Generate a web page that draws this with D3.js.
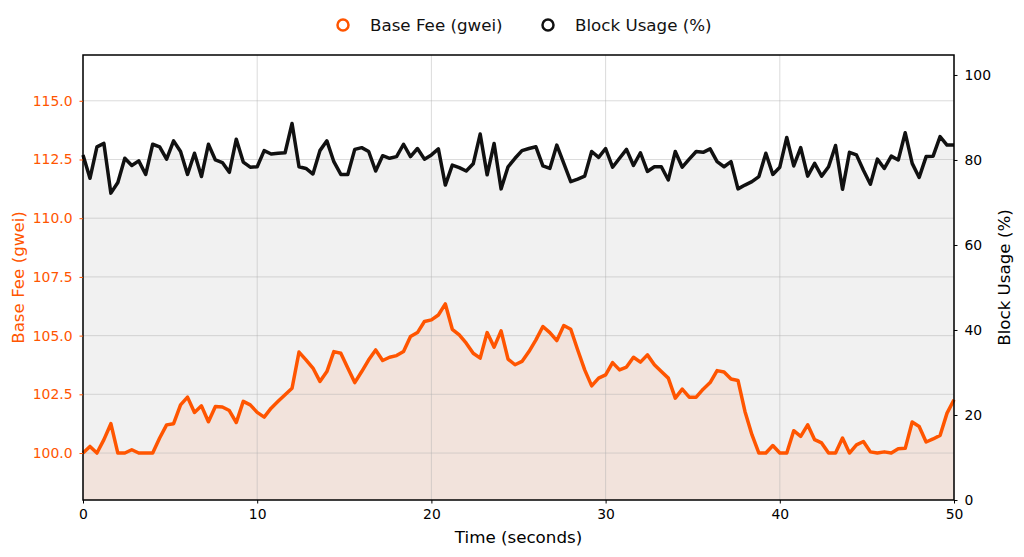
<!DOCTYPE html>
<html><head><meta charset="utf-8">
<script src="https://cdn.jsdelivr.net/npm/d3@7"></script>
<style>
html,body{margin:0;padding:0;background:#fff;}
svg{display:block;font-family:"DejaVu Sans",sans-serif;}
</style></head>
<body>
<svg id="chart" width="1024" height="557"></svg>
<script>
// time step 0.4 s, 126 samples from 0 to 50
const timeStep = 0.4;
const baseFee = [
100.0,100.28,100.0,100.57,101.25,100.0,100.0,100.14,100.0,100.0,
100.0,100.64,101.2,101.25,102.05,102.38,101.73,102.01,101.33,101.98,
101.96,101.81,101.3,102.2,102.05,101.73,101.53,101.91,102.2,102.48,
102.76,104.3,103.97,103.62,103.05,103.47,104.32,104.25,103.62,103.0,
103.47,103.97,104.39,103.94,104.08,104.15,104.32,104.96,105.13,105.6,
105.67,105.88,106.35,105.27,105.03,104.68,104.25,104.04,105.13,104.51,
105.2,104.0,103.76,103.9,104.32,104.82,105.39,105.13,104.79,105.43,
105.27,104.39,103.54,102.86,103.19,103.33,103.85,103.54,103.66,104.08,
103.87,104.18,103.76,103.47,103.19,102.34,102.72,102.38,102.38,102.72,
103.0,103.51,103.45,103.15,103.09,101.77,100.78,100.0,100.0,100.32,
100.0,100.0,100.95,100.71,101.2,100.57,100.43,100.0,100.0,100.64,
100.0,100.35,100.49,100.05,100.0,100.05,100.0,100.18,100.2,101.32,
101.13,100.47,100.6,100.75,101.7,102.27
];
const blockUsage = [
81.2,75.7,83.1,83.9,72.2,74.7,80.4,78.7,79.8,76.6,
83.7,83.1,80.2,84.5,82.0,76.6,81.6,76.1,83.7,80.0,
79.4,77.1,84.9,79.5,78.3,78.4,82.2,81.4,81.6,81.7,
88.6,78.4,78.0,76.7,82.2,84.5,79.6,76.6,76.6,82.5,
82.9,82.0,77.4,81.0,80.4,80.8,83.7,80.8,82.7,80.2,
81.2,82.6,74.1,78.8,78.2,77.4,79.1,86.1,76.5,83.9,
73.2,78.4,80.4,82.2,82.7,83.1,78.6,78.0,83.5,79.2,
74.9,75.5,76.2,82.0,80.6,82.7,78.3,80.4,82.5,78.7,
81.7,77.3,78.4,78.4,75.3,82.0,78.3,80.2,82.0,81.8,
82.6,79.6,78.4,79.6,73.2,74.1,74.9,76.1,81.6,76.6,
78.3,85.3,78.6,82.9,76.2,79.2,76.2,78.4,83.4,73.1,
81.8,81.2,77.6,74.3,80.2,78.0,80.9,80.0,86.4,79.2,
75.9,80.8,80.9,85.5,83.5,83.5
];
const xTicks = [0,10,20,30,40,50];
const feeTicks = [100,102.5,105,107.5,110,112.5,115];
const usageTicks = [0,20,40,60,80,100];
const seriesNames = ["Base Fee (gwei)","Block Usage (%)"];
const time = baseFee.map((_,i)=>+(i*timeStep).toFixed(2));

const orange = "#ff5500", black = "#111111";
const M = {left:83, right:954, top:55, bottom:500};
const svg = d3.select("#chart");

const x = d3.scaleLinear().domain([0,50]).range([M.left,M.right]);
const yL = d3.scaleLinear().domain([98.0,116.95]).range([M.bottom,M.top]);
const yR = d3.scaleLinear().domain([0,104.7]).range([M.bottom,M.top]);

const g = svg.append("g");
// fills
g.append("path").datum(blockUsage)
  .attr("d", d3.area().x((d,i)=>x(time[i])).y0(yR(0)).y1(d=>yR(d)))
  .attr("fill","#000").attr("fill-opacity",0.055);
g.append("path").datum(baseFee)
  .attr("d", d3.area().x((d,i)=>x(time[i])).y0(M.bottom).y1(d=>yL(d)))
  .attr("fill",orange).attr("fill-opacity",0.085);

// grid
g.selectAll(".hg").data(feeTicks).join("line")
  .attr("x1",M.left).attr("x2",M.right).attr("y1",d=>yL(d)).attr("y2",d=>yL(d))
  .attr("stroke","#b0b0b0").attr("stroke-opacity",0.45).attr("stroke-width",1);
g.selectAll(".vg").data(xTicks).join("line")
  .attr("y1",M.top).attr("y2",M.bottom).attr("x1",d=>x(d)).attr("x2",d=>x(d))
  .attr("stroke","#b0b0b0").attr("stroke-opacity",0.45).attr("stroke-width",1);

// lines
g.append("path").datum(baseFee)
  .attr("d", d3.line().x((d,i)=>x(time[i])).y(d=>yL(d)))
  .attr("fill","none").attr("stroke",orange).attr("stroke-width",3.5).attr("stroke-linejoin","round");
g.append("path").datum(blockUsage)
  .attr("d", d3.line().x((d,i)=>x(time[i])).y(d=>yR(d)))
  .attr("fill","none").attr("stroke",black).attr("stroke-width",3.5).attr("stroke-linejoin","round");

// frame
svg.append("rect").attr("x",M.left).attr("y",M.top).attr("width",M.right-M.left).attr("height",M.bottom-M.top)
  .attr("fill","none").attr("stroke","#000").attr("stroke-width",1.5);

// axes
function styleAxis(sel, color){
  sel.select(".domain").remove();
  sel.selectAll(".tick line").attr("stroke",color).attr("stroke-width",1);
  sel.selectAll(".tick text").attr("fill",color).style("font-size","13.9px").style("font-family","DejaVu Sans");
}
const ax = svg.append("g").attr("transform",`translate(0,${M.bottom})`)
  .call(d3.axisBottom(x).tickValues(xTicks).tickSize(3.5).tickPadding(6).tickFormat(d3.format("d")));
styleAxis(ax,"#000");
const al = svg.append("g").attr("transform",`translate(${M.left},0)`)
  .call(d3.axisLeft(yL).tickValues(feeTicks).tickSize(3.5).tickPadding(7).tickFormat(d3.format(".1f")));
styleAxis(al,orange);
const ar = svg.append("g").attr("transform",`translate(${M.right},0)`)
  .call(d3.axisRight(yR).tickValues(usageTicks).tickSize(3.5).tickPadding(7).tickFormat(d3.format("d")));
styleAxis(ar,"#000");

// axis labels
svg.append("text").attr("x",(M.left+M.right)/2).attr("y",543).attr("text-anchor","middle")
  .style("font-size","16.7px").attr("fill","#000").text("Time (seconds)");
svg.append("text").attr("transform",`translate(24,${(M.top+M.bottom)/2}) rotate(-90)`).attr("text-anchor","middle")
  .style("font-size","16.7px").attr("fill",orange).text(seriesNames[0]);
svg.append("text").attr("transform",`translate(1010,${(M.top+M.bottom)/2}) rotate(-90)`).attr("text-anchor","middle")
  .style("font-size","16.7px").attr("fill","#000").text(seriesNames[1]);

// legend
const leg = [{name:seriesNames[0],color:orange,cx:343,tx:370},{name:seriesNames[1],color:black,cx:548,tx:575}];
leg.forEach(l=>{
  svg.append("circle").attr("cx",l.cx).attr("cy",25).attr("r",5.5).attr("fill","#fff")
    .attr("stroke",l.color).attr("stroke-width",2.5);
  svg.append("text").attr("x",l.tx).attr("y",31).style("font-size","16.7px").attr("fill","#111").text(l.name);
});
</script>
</body></html>
